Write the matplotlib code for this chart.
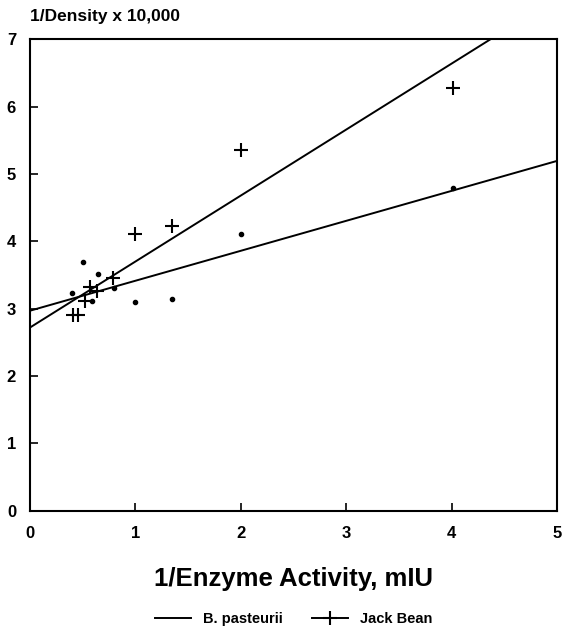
import matplotlib
matplotlib.use("Agg")
import matplotlib.pyplot as plt
import numpy as np
from matplotlib.lines import Line2D

plt.rcParams['font.family'] = ['Liberation Sans', 'DejaVu Sans']
plt.rcParams['font.weight'] = 'bold'

# B. pasteurii (dots)
bp_x = [4.01, 2.0, 1.35, 1.0, 0.5, 0.65, 0.4, 0.8, 0.59]
bp_y = [4.79, 4.11, 3.15, 3.10, 3.69, 3.52, 3.24, 3.31, 3.12]
# Jack Bean (+)
jb_x = [4.01, 2.0, 1.35, 1.0, 0.79, 0.57, 0.64, 0.52, 0.41, 0.46]
jb_y = [6.28, 5.36, 4.23, 4.11, 3.46, 3.32, 3.27, 3.12, 2.90, 2.90]

# fitted lines (intercept, slope)
bp_fit = (2.97, 0.445)
jb_fit = (2.72, 0.98)

xticks = [0, 1, 2, 3, 4, 5]
yticks = [0, 1, 2, 3, 4, 5, 6, 7]

fig = plt.figure(figsize=(5.64, 6.33), dpi=100)
ax = fig.add_axes([0.053, 0.193, 0.935, 0.745])

xx = np.linspace(0, 5, 200)
ax.plot(xx, bp_fit[0] + bp_fit[1] * xx, color='black', lw=1.4)
ax.plot(xx, jb_fit[0] + jb_fit[1] * xx, color='black', lw=1.4)
ax.plot(bp_x, bp_y, linestyle='none', marker='o', color='black', markersize=3)
ax.plot(jb_x, jb_y, linestyle='none', marker='+', color='black', markersize=10, mew=1.5)

ax.set_xlim(0, 5)
ax.set_ylim(0, 7)
ax.set_xticks(xticks)
ax.set_yticks(yticks)
ax.tick_params(direction='in', length=6, width=1.2, labelsize=12)
ax.tick_params(axis='x', pad=11)
ax.tick_params(axis='y', pad=10)
for lab in ax.get_xticklabels() + ax.get_yticklabels():
    lab.set_fontweight('bold')
for s in ax.spines.values():
    s.set_linewidth(1.5)

ax.set_xlabel('1/Enzyme Activity, mIU', fontsize=18.5, fontweight='bold', labelpad=19)
fig.text(0.053, 0.962, '1/Density x 10,000', fontsize=12.5, fontweight='bold', ha='left', va='bottom')

handles = [Line2D([], [], color='black', lw=1.4),
           Line2D([], [], color='black', lw=1.4, marker='+', markersize=10, mew=1.5)]
fig.legend(handles, ['B. pasteurii', 'Jack Bean'], loc='center', bbox_to_anchor=(0.52, 0.022),
           ncol=2, frameon=False, handlelength=2.5, columnspacing=2.0,
           prop={'weight': 'bold', 'size': 10.5})

fig.savefig('out.png', dpi=100)
